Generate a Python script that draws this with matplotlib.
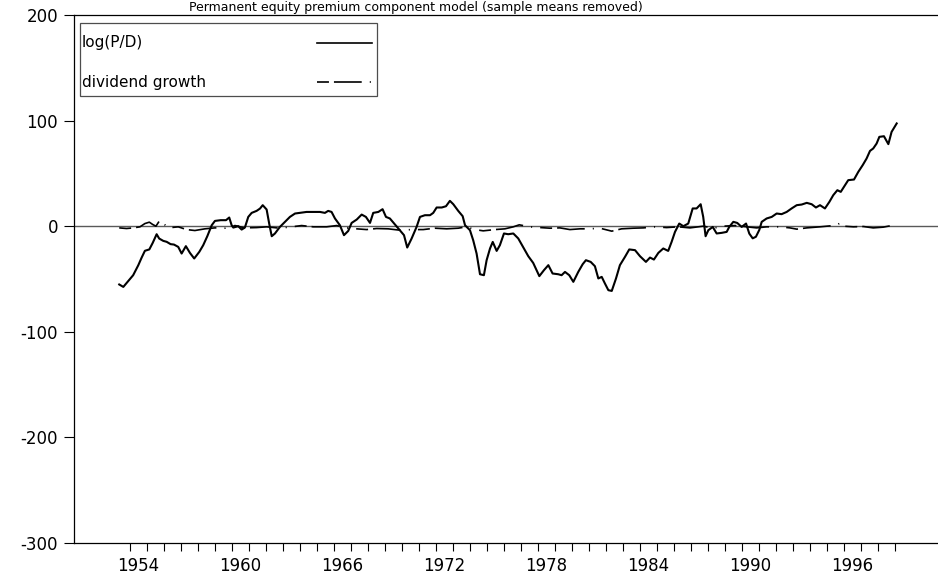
"""
Permanent equity premium component model -- log(P/D) and dividend growth
(sample means removed), redrawn from the printed figure.
"""
import matplotlib
matplotlib.use("Agg")
import matplotlib.pyplot as plt
from matplotlib.lines import Line2D
from matplotlib.patches import Rectangle

plt.rcParams["font.family"] = ["DejaVu Sans"]
plt.rcParams["lines.scale_dashes"] = False

TITLE = "Permanent equity premium component model (sample means removed)"

# ---- data -------------------------------------------------------------------
pd_year = [
    1953.37, 1953.61, 1953.90, 1954.19, 1954.49, 1954.69, 1954.88, 1955.14,
    1955.34, 1955.57, 1955.72, 1955.96, 1956.16, 1956.39, 1956.59, 1956.84,
    1957.04, 1957.29, 1957.53, 1957.78, 1958.08, 1958.31, 1958.55, 1958.81,
    1959.00, 1959.34, 1959.65, 1959.84, 1959.98, 1960.08, 1960.37, 1960.57,
    1960.76, 1960.96, 1961.16, 1961.45, 1961.65, 1961.81, 1962.04, 1962.19,
    1962.34, 1962.53, 1962.82, 1963.12, 1963.41, 1963.71, 1964.00, 1964.39,
    1964.78, 1965.18, 1965.47, 1965.66, 1965.86, 1966.06, 1966.35, 1966.59,
    1966.84, 1967.04, 1967.34, 1967.63, 1967.88, 1968.12, 1968.31, 1968.61,
    1968.86, 1969.06, 1969.29, 1969.59, 1969.88, 1970.12, 1970.31, 1970.57,
    1970.86, 1971.06, 1971.35, 1971.65, 1971.84, 1972.04, 1972.34, 1972.59,
    1972.82, 1973.02, 1973.31, 1973.57, 1973.71, 1974.00, 1974.19, 1974.39,
    1974.59, 1974.82, 1974.98, 1975.18, 1975.34, 1975.57, 1975.76, 1976.00,
    1976.25, 1976.55, 1976.84, 1977.14, 1977.43, 1977.72, 1978.08, 1978.35,
    1978.61, 1978.86, 1979.19, 1979.39, 1979.59, 1979.84, 1980.08, 1980.37,
    1980.63, 1980.82, 1981.10, 1981.35, 1981.55, 1981.75, 1981.94, 1982.14,
    1982.34, 1982.59, 1982.82, 1983.12, 1983.37, 1983.71, 1984.00, 1984.35,
    1984.59, 1984.82, 1985.08, 1985.37, 1985.66, 1985.86, 1986.06, 1986.31,
    1986.55, 1986.84, 1987.10, 1987.33, 1987.57, 1987.72, 1987.86, 1988.02,
    1988.28, 1988.51, 1988.81, 1989.10, 1989.25, 1989.49, 1989.72, 1989.98,
    1990.24, 1990.43, 1990.63, 1990.82, 1991.02, 1991.16, 1991.45, 1991.75,
    1992.04, 1992.33, 1992.63, 1992.92, 1993.22, 1993.51, 1993.81, 1994.10,
    1994.35, 1994.59, 1994.88, 1995.14, 1995.37, 1995.61, 1995.81, 1996.06,
    1996.25, 1996.59, 1996.84, 1997.10, 1997.33, 1997.53, 1997.72, 1997.92,
    1998.08, 1998.35, 1998.61, 1998.80, 1999.10,
]
log_pd = [
    -55.2, -57.5, -52.0, -46.4, -37.0, -29.7, -23.3, -22.0,
    -15.8, -7.6, -11.7, -13.9, -14.8, -17.0, -17.4, -19.6,
    -25.9, -18.9, -25.3, -30.6, -24.3, -18.0, -9.5, 0.9,
    5.0, 5.7, 5.7, 8.2, 1.0, -1.3, 0.0, -3.2,
    -1.3, 8.8, 12.6, 14.5, 16.7, 19.9, 15.8, 2.5,
    -9.5, -6.9, -0.7, 4.1, 8.8, 12.0, 12.6, 13.5,
    13.5, 13.5, 12.6, 14.5, 13.5, 7.3, 0.9, -8.5,
    -4.5, 3.1, 6.3, 11.0, 8.8, 3.1, 12.6, 13.5,
    16.1, 8.8, 7.3, 1.6, -3.8, -8.5, -20.2, -11.6,
    -0.7, 8.8, 10.4, 10.4, 12.6, 17.7, 17.7, 18.9,
    24.0, 20.8, 14.5, 9.5, 0.9, -3.8, -13.3, -25.9,
    -45.5, -46.4, -32.2, -21.1, -14.9, -23.4, -18.0, -6.9,
    -7.6, -6.9, -11.6, -20.2, -28.4, -34.8, -47.3, -41.7,
    -36.9, -44.8, -45.5, -46.4, -43.3, -46.4, -52.7, -43.3,
    -36.0, -32.2, -33.8, -37.9, -49.5, -48.0, -54.3, -60.6,
    -61.3, -49.5, -36.9, -29.0, -22.0, -22.7, -28.4, -33.8,
    -29.7, -31.6, -25.3, -21.1, -23.4, -14.9, -5.4, 2.5,
    0.0, 2.5, 16.8, 16.8, 20.8, 8.8, -9.5, -3.8,
    -0.7, -6.9, -6.3, -5.4, -0.7, 4.1, 3.1, -0.7,
    2.5, -7.0, -11.5, -10.0, -3.5, 4.1, 7.3, 8.8,
    12.0, 11.4, 13.5, 16.8, 19.9, 20.5, 22.1, 20.8,
    17.7, 19.9, 16.8, 23.0, 29.4, 34.1, 32.5, 38.8,
    43.6, 44.2, 51.4, 57.8, 64.1, 71.3, 73.6, 78.3,
    84.6, 85.2, 77.7, 89.3, 97.3,
]

dg_year = [
    1953.37, 1953.80, 1954.20, 1954.59, 1954.88, 1955.14, 1955.34, 1955.53,
    1955.76, 1956.25, 1956.84, 1957.33, 1957.82, 1958.41, 1959.00, 1959.59,
    1960.18, 1960.76, 1961.45, 1962.04, 1962.82, 1963.51, 1964.10, 1964.78,
    1965.57, 1966.16, 1966.75, 1967.34, 1967.92, 1968.51, 1969.19, 1969.88,
    1970.57, 1971.25, 1971.94, 1972.63, 1973.31, 1973.80, 1974.29, 1974.78,
    1975.47, 1976.06, 1976.55, 1976.90, 1977.53, 1978.12, 1978.71, 1979.29,
    1979.88, 1980.47, 1981.06, 1981.65, 1982.34, 1982.92, 1983.60, 1984.20,
    1984.88, 1985.57, 1986.25, 1986.94, 1987.72, 1988.31, 1988.90, 1989.59,
    1990.28, 1990.86, 1991.45, 1992.24, 1992.82, 1993.22, 1993.81, 1994.59,
    1995.18, 1995.57, 1995.81, 1996.00, 1996.55, 1997.14, 1997.72, 1998.31,
    1998.80, 1999.10,
]
div_growth = [
    -1.6, -2.2, -1.6, -0.6, 2.5, 3.8, 1.6, 0.0,
    5.7, -1.6, -0.6, -3.2, -4.1, -2.5, -1.6, -1.9,
    0.6, -1.6, -1.3, -0.6, -1.9, -0.6, 0.6, -0.6,
    -0.6, 0.6, -1.6, -2.5, -3.2, -2.2, -2.5, -3.8,
    -3.2, -3.2, -1.9, -2.5, -1.9, -0.6, -3.2, -4.4,
    -3.2, -2.5, -0.6, 1.3, -0.6, -1.3, -1.9, -1.6,
    -3.2, -2.5, -2.5, -1.9, -4.7, -2.5, -1.9, -1.6,
    -0.6, -1.3, -0.6, -1.6, 0.0, -1.9, 0.0, 0.6,
    -0.6, -1.6, -0.6, -0.6, -1.6, -2.8, -1.6, -0.6,
    0.3, 0.9, 3.5, 0.0, -0.6, -0.3, -1.6, -0.9,
    0.6, -1.6,
]

tick_years = list(range(1954, 2000))
label_years = [1954, 1960, 1966, 1972, 1978, 1984, 1990, 1996]
y_ticks = [-300, -200, -100, 0, 100, 200]

legend_labels = ["log(P/D)", "dividend growth"]
DG_DASHES = (0, (8.6, 3.6, 20.0, 5.8, 0.8, 5.8))


def main():
    fig = plt.figure(figsize=(9.38, 5.79), dpi=100)
    ax = fig.add_axes([0.0789, 0.0622, 0.9211, 0.9119])

    ax.axhline(0, color="0.35", lw=1.0, zorder=1)
    ax.plot(pd_year, log_pd, color="black", lw=1.5, zorder=3)
    ax.plot(dg_year, div_growth, color="black", lw=1.2, ls=DG_DASHES, zorder=2)

    ax.set_xlim(1950.71, 2001.53)
    ax.set_ylim(-300, 200)

    ax.set_yticks(y_ticks)
    ax.set_yticklabels([str(v) for v in y_ticks])
    ax.tick_params(axis="y", direction="out", length=7.5, width=0.8,
                   pad=4, labelsize=12)

    # year marks at each year start, labels centred on the year
    ax.set_xticks(tick_years)
    ax.set_xticklabels([])
    ax.set_xticks([y + 0.5 for y in label_years], minor=True)
    ax.set_xticklabels([str(y) for y in label_years], minor=True)
    ax.tick_params(axis="x", which="major", direction="out", length=6,
                   width=0.8)
    ax.tick_params(axis="x", which="minor", length=0, pad=10, labelsize=12)

    ax.spines["right"].set_visible(False)
    for side in ("left", "bottom", "top"):
        ax.spines[side].set_linewidth(0.9)

    # legend: text on the left, line samples on the right, as in the print
    ax.add_patch(Rectangle((0.0069, 0.8466), 0.3438, 0.1384,
                           transform=ax.transAxes, fill=False,
                           edgecolor="0.3", lw=0.9, zorder=5))
    for lab, ty, ls, lw in zip(legend_labels, [0.947, 0.873],
                               ["-", DG_DASHES], [1.2, 1.2]):
        ax.text(0.0093, ty, lab, transform=ax.transAxes, fontsize=11,
                va="center", ha="left", zorder=6)
        ax.add_line(Line2D([0.281, 0.345], [ty, ty], transform=ax.transAxes,
                           color="black", lw=lw, ls=ls, zorder=6))

    # title sits tight against the top edge, just above the frame
    fig.text(416 / 938, 1 - 11.5 / 579, TITLE, ha="center", va="baseline",
             fontsize=9)

    fig.savefig("out.png", dpi=100)
    plt.close(fig)


if __name__ == "__main__":
    main()
